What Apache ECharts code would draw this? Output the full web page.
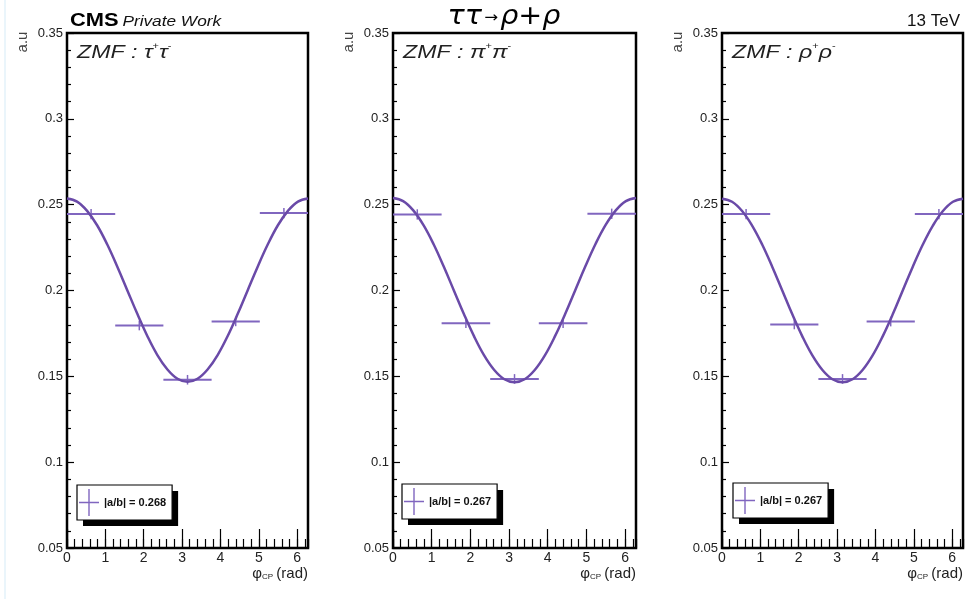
<!DOCTYPE html>
<html>
<head>
<meta charset="utf-8">
<script src="https://cdn.jsdelivr.net/npm/echarts@6/dist/echarts.min.js"></script>
<style>
html,body{margin:0;padding:0;background:#fff;}
#chart{width:968px;height:599px;}
</style>
</head>
<body>
<div id="chart"></div>
<script>
// ---- data ----
const binEdges = [0, 1.257, 2.513, 3.770, 5.027, 6.283];
const binCenters = [0.628, 1.885, 3.142, 4.398, 5.655];

const valTauTau = [0.2445, 0.1796, 0.1480, 0.1820, 0.2451];
const valPiPi   = [0.2443, 0.1809, 0.1485, 0.1809, 0.2447];
const valRhoRho = [0.2445, 0.1802, 0.1485, 0.1819, 0.2445];
const errTauTau = [0.0030, 0.0028, 0.0028, 0.0028, 0.0030];
const errPiPi   = [0.0030, 0.0028, 0.0028, 0.0028, 0.0030];
const errRhoRho = [0.0030, 0.0028, 0.0028, 0.0028, 0.0030];

const fitPhi = [0, 0.262, 0.524, 0.785, 1.047, 1.309, 1.571, 1.833, 2.094, 2.356, 2.618, 2.880, 3.142,
                3.403, 3.665, 3.927, 4.189, 4.451, 4.712, 4.974, 5.236, 5.498, 5.760, 6.021, 6.283];
const fitTauTau = [0.2536, 0.2518, 0.2464, 0.2380, 0.2269, 0.2140, 0.2002, 0.1864, 0.1735, 0.1624, 0.1540, 0.1486, 0.1468,
                   0.1486, 0.1540, 0.1624, 0.1735, 0.1864, 0.2002, 0.2140, 0.2269, 0.2380, 0.2464, 0.2518, 0.2536];
const fitPiPi   = [0.2539, 0.2521, 0.2467, 0.2382, 0.2271, 0.2141, 0.2002, 0.1863, 0.1734, 0.1622, 0.1537, 0.1483, 0.1465,
                   0.1483, 0.1537, 0.1622, 0.1734, 0.1863, 0.2002, 0.2141, 0.2271, 0.2382, 0.2467, 0.2521, 0.2539];
const fitRhoRho = [0.2535, 0.2517, 0.2463, 0.2378, 0.2268, 0.2139, 0.2000, 0.1861, 0.1733, 0.1622, 0.1537, 0.1483, 0.1465,
                   0.1483, 0.1537, 0.1622, 0.1733, 0.1861, 0.2000, 0.2139, 0.2268, 0.2378, 0.2463, 0.2517, 0.2535];

const legendNames = ['|a/b| = 0.268', '|a/b| = 0.267', '|a/b| = 0.267'];
const panelLabels = [['τ', 'τ'], ['π', 'π'], ['ρ', 'ρ']];
const yTickLabels = ['0.05', '0.1', '0.15', '0.2', '0.25', '0.3', '0.35'];
const xTickLabels = ['0', '1', '2', '3', '4', '5', '6'];

// ---- layout / style ----
const FONT = '"Liberation Sans", Arial, sans-serif';
const curveColor = '#6a4aa8';
const barColor = '#8066bf';
const panels = [
  {left: 67,  width: 241, vals: valTauTau, errs: errTauTau, fit: fitTauTau, legLeft: 77,  legTop: 485},
  {left: 393, width: 243, vals: valPiPi,   errs: errPiPi,   fit: fitPiPi,   legLeft: 402, legTop: 484},
  {left: 722, width: 241, vals: valRhoRho, errs: errRhoRho, fit: fitRhoRho, legLeft: 733, legTop: 483}
];
const TOP = 33, BOTTOM = 51;
const CROSS = 'path://M0,9.4h20v1.2h-20z M9.3,0h1.4v20h-1.4z';

const grid = [], xAxis = [], yAxis = [], series = [], legend = [], graphic = [];

function errRender(params, api) {
  const lo = api.coord([api.value(1), api.value(3)]);
  const hi = api.coord([api.value(2), api.value(3)]);
  const t = api.coord([api.value(0), api.value(3) + api.value(4)]);
  const b = api.coord([api.value(0), api.value(3) - api.value(4)]);
  return {type: 'group', children: [
    {type: 'line', shape: {x1: lo[0], y1: lo[1], x2: hi[0], y2: hi[1]}, style: {stroke: barColor, lineWidth: 2}},
    {type: 'line', shape: {x1: t[0], y1: t[1], x2: b[0], y2: b[1]}, style: {stroke: barColor, lineWidth: 1.5}}
  ]};
}

panels.forEach((p, i) => {
  grid.push({left: p.left, width: p.width, top: TOP, bottom: BOTTOM, show: true,
             borderColor: '#000', borderWidth: 2.5, backgroundColor: 'transparent', containLabel: false});
  // major x axis with labels
  xAxis.push({gridIndex: i, type: 'value', min: 0, max: binEdges[5], interval: 1, position: 'bottom',
    axisLine: {show: false}, splitLine: {show: false},
    axisTick: {show: true, inside: true, length: 19, lineStyle: {color: '#000', width: 1.2}},
    axisLabel: {show: true, margin: 3, showMaxLabel: false, fontFamily: FONT, fontSize: 14, color: '#222',
      formatter: v => xTickLabels[Math.round(v)] !== undefined && Math.abs(v - Math.round(v)) < 1e-6 ? xTickLabels[Math.round(v)] : ''}});
  // minor x ticks
  xAxis.push({gridIndex: i, type: 'value', min: 0, max: binEdges[5], interval: 0.2, position: 'bottom', offset: 0,
    axisLine: {show: false}, splitLine: {show: false}, axisLabel: {show: false},
    axisTick: {show: true, inside: true, length: 9, lineStyle: {color: '#000', width: 1.2}}});
  yAxis.push({gridIndex: i, type: 'value', min: 0.05, max: 0.35, interval: 0.05,
    axisLine: {show: false}, splitLine: {show: false},
    axisTick: {show: true, inside: true, length: 7, lineStyle: {color: '#000', width: 1.2}},
    minorTick: {show: true, splitNumber: 5, length: 4, lineStyle: {color: '#000', width: 1.2}},
    axisLabel: {margin: 4, fontFamily: FONT, fontSize: 13, color: '#222',
      formatter: v => yTickLabels[Math.round((v - 0.05) / 0.05)]}});

  const rows = binCenters.map((c, k) => [c, binEdges[k], binEdges[k + 1], p.vals[k], p.errs[k]]);
  series.push({type: 'custom', name: legendNames[i], xAxisIndex: 2 * i, yAxisIndex: i,
    renderItem: errRender, data: rows, encode: {x: [0, 1, 2], y: 3},
    itemStyle: {color: barColor}, z: 3});
  series.push({type: 'line', name: 'fit' + i, xAxisIndex: 2 * i, yAxisIndex: i,
    data: fitPhi.map((x, k) => [x, p.fit[k]]), smooth: 0.4, showSymbol: false,
    lineStyle: {color: curveColor, width: 2.5}, itemStyle: {color: curveColor}, z: 4});

  const legBase = {left: p.legLeft, top: p.legTop, orient: 'vertical', selectedMode: false,
    symbolKeepAspect: false, itemWidth: 20, itemHeight: 27, padding: [4, 6, 4, 2]};
  // shadow layer (filled box + black drop shadow, invisible items)
  legend.push(Object.assign({}, legBase, {
    data: [{name: legendNames[i], icon: CROSS, itemStyle: {color: 'rgba(0,0,0,0)'}}],
    backgroundColor: '#fff', borderWidth: 0,
    shadowColor: '#000', shadowBlur: 0, shadowOffsetX: 6, shadowOffsetY: 6, z: 5,
    textStyle: {fontFamily: FONT, fontSize: 11, fontWeight: 'bold', color: 'rgba(0,0,0,0)'}}));
  // visible layer
  legend.push(Object.assign({}, legBase, {
    data: [{name: legendNames[i], icon: CROSS, itemStyle: {color: barColor}}],
    backgroundColor: 'transparent', borderColor: '#000', borderWidth: 1.2, z: 6,
    textStyle: {fontFamily: FONT, fontSize: 11, fontWeight: 'bold', color: '#111'}}));

  // y axis name "a.u"
  graphic.push({type: 'text', x: p.left - 44, y: 42, rotation: Math.PI / 2,
    style: {text: 'a.u', align: 'center', verticalAlign: 'middle', font: '15px ' + FONT, fill: '#444'}});
  // x axis name
  graphic.push({type: 'text', x: p.left + p.width, y: 574,
    style: {text: '{p|φ}{s|CP} {r|(rad)}', align: 'right', verticalAlign: 'middle',
      rich: {p: {fontFamily: FONT, fontSize: 15, fill: '#222'},
             s: {fontFamily: FONT, fontSize: 8, fill: '#222', padding: [6, 0, 0, 0]},
             r: {fontFamily: FONT, fontSize: 15, fill: '#222'}}}});
  // ZMF label
  const L = panelLabels[i];
  graphic.push({type: 'text', x: p.left + 10, y: 53, scaleX: 1.22,
    style: {text: '{m|ZMF : ' + L[0] + '}{s|+}{m|' + L[1] + '}{s|-}', verticalAlign: 'middle',
      rich: {m: {fontFamily: FONT, fontSize: 19, fontStyle: 'italic', fill: '#222'},
             s: {fontFamily: FONT, fontSize: 9, fill: '#222', padding: [0, 0, 12, 0]}}}});
});

graphic.push({type: 'text', x: 70, y: 21, scaleX: 1.15,
  style: {text: '{c|CMS} {w|Private Work}', verticalAlign: 'middle',
    rich: {c: {fontFamily: FONT, fontSize: 19, fontWeight: 'bold', fill: '#000'},
           w: {fontFamily: FONT, fontSize: 15, fontStyle: 'italic', fill: '#111', padding: [2, 0, 0, 0]}}}});
graphic.push({type: 'text', x: 504, y: 17, scaleX: 1.1,
  style: {text: '{g|ττ}{a|→}{g|ρ+ρ}', align: 'center', verticalAlign: 'middle',
    rich: {g: {fontFamily: '"DejaVu Sans", sans-serif', fontSize: 26, fontStyle: 'italic', fill: '#000'},
           a: {fontFamily: '"DejaVu Sans", sans-serif', fontSize: 15, fill: '#000', padding: [2, 2, 0, 2]}}}});
graphic.push({type: 'text', x: 960, y: 21,
  style: {text: '13 TeV', align: 'right', verticalAlign: 'middle', font: '17px ' + FONT, fill: '#111'}});
graphic.push({type: 'rect', shape: {x: 4, y: 0, width: 2, height: 599}, style: {fill: '#eaf5fb'}, z: -1});

const chart = echarts.init(document.getElementById('chart'), null, {renderer: 'canvas'});
chart.setOption({animation: false, backgroundColor: '#fff', grid, xAxis, yAxis, series, legend, graphic});
</script>
</body>
</html>
